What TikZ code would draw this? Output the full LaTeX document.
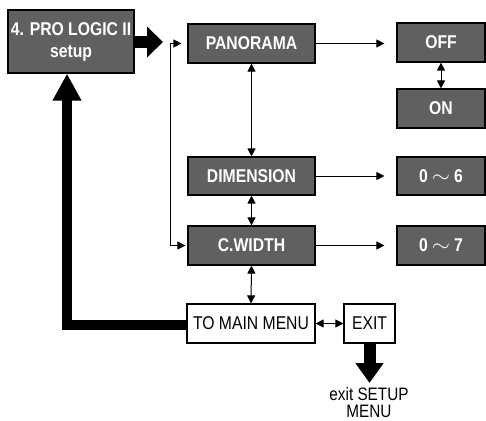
\documentclass[tikz,border=0pt]{standalone}
\usepackage{fontspec}
\setmainfont{Liberation Sans}[FakeStretch=0.85]
\usetikzlibrary{arrows.meta}
\definecolor{boxgray}{RGB}{96,96,96}
\newcommand{\wavesep}{\hspace{4pt}\raisebox{0pt}{\scalebox{1.35}[1.2]{$\sim$}}\hspace{4pt}}
\begin{document}
\begin{tikzpicture}[x=1pt,y=-1pt,
 gbox/.style={draw=black, line width=1.2pt, fill=boxgray, text=white,
   font=\bfseries\fontsize{18.5}{22}\selectfont, inner sep=0pt,
   minimum height=39pt, align=center},
 wbox/.style={draw=black, line width=1.2pt, fill=white,
   font=\fontsize{18.5}{22}\selectfont, inner sep=0pt, minimum height=39pt},
 conn/.style={line width=1pt, -{Triangle[length=8pt,width=8pt]}},
 dbl/.style={line width=1pt, {Triangle[length=8pt,width=8pt]}-{Triangle[length=8pt,width=8pt]}},
]
\useasboundingbox (0,0) rectangle (486,420);
% boxes
\node[gbox, minimum width=126pt, minimum height=63pt] (setup) at (71,41.5) {4. PRO LOGIC II\\setup};
\node[gbox, minimum width=127pt] (pan) at (251.5,43.5) {PANORAMA};
\node[gbox, minimum width=88pt] (off) at (441,42.5) {OFF};
\node[gbox, minimum width=88pt] (on) at (441,108.5) {ON};
\node[gbox, minimum width=127pt, minimum height=38pt] (dim) at (251.5,176) {DIMENSION};
\node[gbox, minimum width=88pt, minimum height=38pt] (d6) at (441,176) {0\wavesep 6};
\node[gbox, minimum width=127pt] (cw) at (251.5,245.5) {C.WIDTH};
\node[gbox, minimum width=88pt] (d7) at (441,245.5) {0\wavesep 7};
\node[wbox, minimum width=128pt] (menu) at (251,323.5) {TO MAIN MENU};
\node[wbox, minimum width=51pt] (exit) at (369.5,323.5) {EXIT};
\node[font=\fontsize{18}{17}\selectfont, align=center, anchor=north, inner sep=0pt] (exittxt) at (369,387) {exit SETUP\\MENU};
% coordinates
\coordinate (split) at (170,43.5);
\coordinate (bigtip) at (163,42);
\coordinate (retcorner) at (67,325);
% big arrow from setup
\draw[line width=11pt, -{Triangle[length=16pt,width=30pt]}] (setup.east |- bigtip) -- (bigtip);
% distribution line
\draw[conn, shorten >=6pt] (split) -- (pan.west);
\draw[conn, shorten >=2pt] (split) |- (cw.west);
% right arrows
\draw[conn, shorten >=12pt] (pan.east) -- (off.west |- pan.east);
\draw[conn, shorten >=12pt] (dim.east) -- (d6.west);
\draw[conn, shorten >=12pt] (cw.east) -- (d7.west);
% vertical double arrows
\draw[dbl] (off.south) -- (on.north);
\draw[dbl] (pan.south) -- (dim.north);
\draw[dbl] (dim.south) -- (cw.north);
\draw[dbl] (cw.south) -- (menu.north);
\draw[dbl] (menu.east) -- (exit.west);
% return thick arrow
\draw[line width=10pt, -{Triangle[length=27pt,width=27pt]}] (menu.west |- retcorner) -- (retcorner) -- (retcorner |- setup.south);
% exit thick arrow
\coordinate (exittip) at (369.5,383);
\draw[line width=12pt, -{Triangle[length=20pt,width=27pt]}] (exit.south) -- (exittip);
\end{tikzpicture}
\end{document}
